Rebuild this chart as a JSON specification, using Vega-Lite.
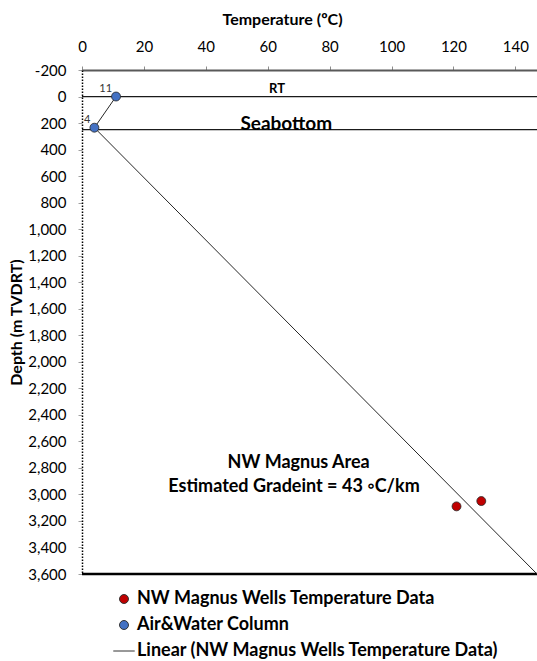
{
  "$schema": "https://vega.github.io/schema/vega-lite/v6.json",
  "width": 455,
  "height": 504,
  "autosize": {"type": "none"},
  "padding": {"left": 82, "top": 70, "right": 0, "bottom": 87},
  "background": "white",
  "config": {
    "view": {"stroke": null},
    "font": "Lato",
    "text": {"font": "Lato"},
    "axis": {"labelOverlap": false}
  },
  "datasets": {
    "points": [
      {"temp": 11, "depth": 0, "series": "Air&Water Column", "label": "11"},
      {"temp": 4, "depth": 235, "series": "Air&Water Column", "label": "4"},
      {"temp": 121, "depth": 3090, "series": "NW Magnus Wells Temperature Data", "label": ""},
      {"temp": 129, "depth": 3050, "series": "NW Magnus Wells Temperature Data", "label": ""}
    ],
    "trend": [
      {"temp": 4, "depth": 235},
      {"temp": 147, "depth": 3600}
    ],
    "column": [
      {"temp": 11, "depth": 0},
      {"temp": 4, "depth": 235}
    ],
    "hlines": [
      {"depth": 0, "name": "RT"},
      {"depth": 250, "name": "Seabottom"}
    ],
    "bottom": [
      {"depth": 3600}
    ],
    "notes": [
      {"temp": 63, "depth": -55, "text": "RT", "size": 13},
      {"temp": 66, "depth": 205, "text": "Seabottom", "size": 19},
      {"temp": 70, "depth": 2762, "text": "NW Magnus Area", "size": 18},
      {"temp": 68.5, "depth": 2943, "text": "Estimated Gradeint = 43 ◦C/km", "size": 18}
    ]
  },
  "encoding": {
    "y": {
      "field": "depth",
      "type": "quantitative",
      "scale": {"domain": [-200, 3600], "reverse": true, "nice": false, "zero": false},
      "axis": {
        "title": "Depth (m TVDRT)",
        "titleFont": "Lato",
        "titleFontSize": 16,
        "titleFontWeight": "bold",
        "titleColor": "black",
        "titlePadding": 3,
        "values": [-200, 0, 200, 400, 600, 800, 1000, 1200, 1400, 1600, 1800, 2000, 2200, 2400, 2600, 2800, 3000, 3200, 3400, 3600],
        "format": ",.0f",
        "labelExpr": "replace(datum.label, '−', '-')",
        "labelOverlap": false,
        "labelFont": "Lato",
        "labelFontSize": 15,
        "labelColor": "black",
        "labelPadding": 12,
        "tickColor": "#a0a0a0",
        "tickSize": 4,
        "domainColor": "black",
        "domainWidth": 1.5,
        "domainDash": [1.5, 1.5],
        "grid": false
      }
    }
  },
  "layer": [
    {
      "data": {"name": "hlines"},
      "mark": {"type": "rule", "color": "#1a1a1a", "strokeWidth": 1.3}
    },
    {
      "data": {"name": "bottom"},
      "mark": {"type": "rule", "color": "black", "strokeWidth": 2.5}
    },
    {
      "data": {"name": "trend"},
      "mark": {"type": "line", "color": "#262626", "strokeWidth": 1, "clip": true},
      "encoding": {
        "x": {
          "field": "temp",
          "type": "quantitative",
          "scale": {"domain": [0, 147], "nice": false, "zero": false},
          "axis": {
            "orient": "top",
            "title": "Temperature (ºC)",
            "titleFont": "Lato",
            "titleFontSize": 16,
            "titleFontWeight": "bold",
            "titleColor": "black",
            "titleX": 200,
            "titlePadding": 12,
            "values": [0, 5, 10, 15, 20, 25, 30, 35, 40, 45, 50, 55, 60, 65, 70, 75, 80, 85, 90, 95, 100, 105, 110, 115, 120, 125, 130, 135, 140, 145],
            "labelExpr": "datum.value % 20 === 0 ? datum.label : ''",
            "labelFont": "Lato",
            "labelFontSize": 15,
            "labelColor": "black",
            "labelPadding": 12,
            "labelFlush": false,
            "labelOverlap": false,
            "tickColor": "#8c8c8c",
            "tickSize": 4,
            "domainColor": "#595959",
            "domainWidth": 2,
            "grid": false
          }
        }
      }
    },
    {
      "data": {"name": "column"},
      "mark": {"type": "line", "color": "#262626", "strokeWidth": 1},
      "encoding": {
        "x": {"field": "temp", "type": "quantitative"}
      }
    },
    {
      "data": {"name": "points"},
      "mark": {"type": "point", "filled": true, "size": 80, "opacity": 1, "stroke": "#262626", "strokeWidth": 0.8},
      "encoding": {
        "x": {"field": "temp", "type": "quantitative"},
        "color": {
          "field": "series",
          "type": "nominal",
          "scale": {
            "domain": ["NW Magnus Wells Temperature Data", "Air&Water Column", "Linear (NW Magnus Wells Temperature Data)"],
            "range": ["#C00000", "#4472C4", "#404040"]
          },
          "legend": {
            "title": null,
            "orient": "none",
            "legendX": 33,
            "legendY": 520,
            "labelFont": "Lato",
            "labelFontSize": 18,
            "labelFontWeight": "bold",
            "labelColor": "black",
            "labelOffset": 4,
            "labelLimit": 500,
            "symbolSize": 80,
            "symbolStrokeColor": "#333333",
            "symbolStrokeWidth": 1,
            "rowPadding": 8
          }
        },
        "shape": {
          "field": "series",
          "type": "nominal",
          "scale": {
            "domain": ["NW Magnus Wells Temperature Data", "Air&Water Column", "Linear (NW Magnus Wells Temperature Data)"],
            "range": ["circle", "circle", "M-2.4,0H2.4"]
          },
          "legend": null
        }
      }
    },
    {
      "data": {"name": "points"},
      "mark": {"type": "text", "align": "right", "baseline": "alphabetic", "dx": -4, "dy": -5, "fontSize": 11, "color": "#333333", "font": "Lato"},
      "encoding": {
        "x": {"field": "temp", "type": "quantitative"},
        "text": {"field": "label"}
      }
    },
    {
      "data": {"name": "notes"},
      "mark": {"type": "text", "align": "center", "baseline": "middle", "fontWeight": "bold", "color": "black", "font": "Lato"},
      "encoding": {
        "x": {"field": "temp", "type": "quantitative"},
        "text": {"field": "text"},
        "size": {"field": "size", "type": "quantitative", "scale": null, "legend": null}
      }
    }
  ]
}
